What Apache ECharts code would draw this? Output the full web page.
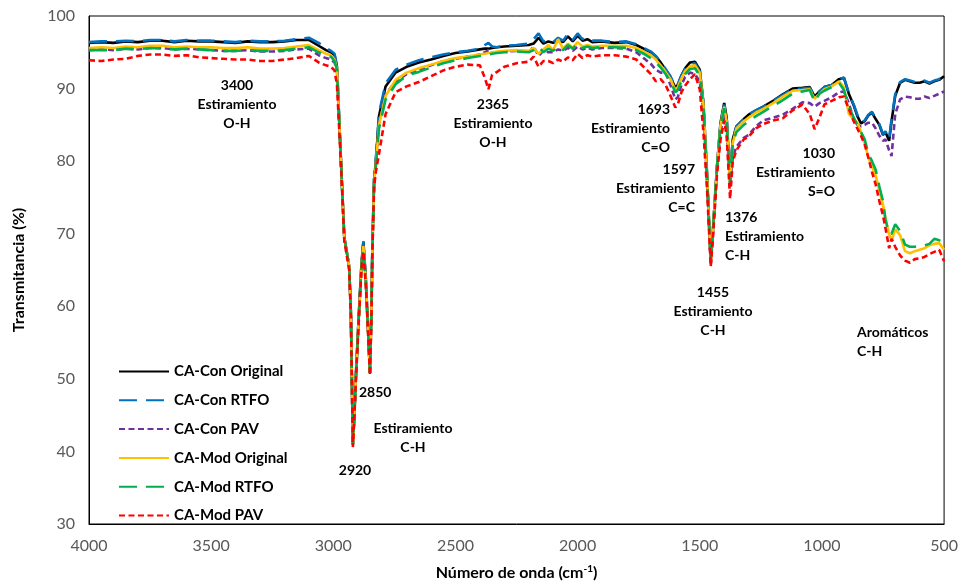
<!DOCTYPE html>
<html>
<head>
<meta charset="utf-8">
<script src="https://cdn.jsdelivr.net/npm/echarts@6/dist/echarts.min.js"></script>
<style>
	html, body { margin: 0; padding: 0; background: #fff; }
	#charts1 { width: 961px; height: 586px; }
</style>
</head>
<body>
<div id="charts1"></div>
<script>
// número de onda (cm-1), eje compartido por las seis curvas
var waveNumbers = [
	4000,3950,3900,3850,3800,3750,3700,3650,3600,3550,
	3500,3450,3400,3350,3300,3250,3200,3150,3100,3060,
	3030,3010,2995,2985,2970,2955,2945,2935,2928,2924,
	2920,2914,2908,2895,2884,2877,2867,2858,2850,2844,
	2840,2833,2826,2813,2786,2745,2700,2650,2600,2550,
	2500,2450,2400,2380,2365,2350,2330,2300,2250,2200,
	2180,2160,2140,2120,2100,2080,2060,2040,2020,2000,
	1980,1960,1940,1900,1850,1800,1760,1730,1700,1680,
	1660,1640,1620,1600,1590,1575,1560,1540,1520,1500,
	1485,1470,1455,1445,1430,1415,1400,1390,1376,1365,
	1350,1320,1300,1270,1240,1200,1160,1120,1080,1050,
	1030,1010,990,960,930,910,890,870,855,840,
	825,810,795,780,765,750,740,725,715,700,
	680,660,640,620,600,580,560,540,520,500
];

var conOriginal = [
	96.3,96.4,96.3,96.5,96.4,96.6,96.6,96.4,96.6,96.5,
	96.5,96.4,96.3,96.5,96.4,96.4,96.5,96.7,96.7,95.9,
	95.3,95.0,94.6,93.0,81,69.5,67.5,65.5,59,50,
	41,45,50,59.3,66.2,68.9,63.8,57,50.8,59.3,
	68.4,77.5,79.9,86.2,90.3,92.2,93.0,93.6,94.0,94.5,
	94.9,95.1,95.4,95.5,95.5,95.6,95.7,95.8,95.9,96.0,
	96.2,97.0,96.2,96.5,96.3,96.6,96.4,97.2,96.5,97.3,
	96.6,96.8,96.4,96.5,96.3,96.4,96.0,95.5,95.0,94.4,
	93.6,92.6,91.6,90.1,90.5,91.8,92.8,93.6,93.7,92.6,
	88,78,66,71,79,85.3,88.0,86,77.5,83,
	84.8,85.8,86.4,87.0,87.5,88.3,89.2,90.0,90.1,90.2,
	88.9,89.6,90.2,90.5,91.3,91.5,89.3,87.7,86.2,85.2,
	85.5,86.3,86.7,85.8,85.0,83.6,84.0,82.8,85.5,89.0,
	90.8,91.2,91.0,90.8,90.8,91.0,90.7,91.0,91.2,91.7
];
var conRtfo = [
	96.4,96.5,96.5,96.6,96.5,96.7,96.7,96.5,96.7,96.6,
	96.6,96.5,96.4,96.6,96.5,96.5,96.6,96.8,97.0,96.3,
	95.6,95.2,94.8,93.2,81,69.5,67.5,65.5,59,50,
	41,45,50,59.3,66.2,68.9,63.8,57,50.8,59.3,
	68.4,77.5,80.2,86.6,90.7,92.6,93.3,93.9,94.3,94.7,
	95.0,95.2,95.5,96.0,96.3,95.8,95.7,95.9,96.0,96.2,
	96.8,97.6,96.5,96.7,96.4,97.0,96.6,97.5,96.7,97.6,
	96.8,97.0,96.6,96.6,96.4,96.5,96.1,95.6,95.1,94.5,
	93.7,92.7,91.7,90.2,90.6,91.8,92.7,93.4,93.5,92.4,
	88,78,66,71,79,85.3,87.8,86,77.3,83,
	84.8,85.8,86.4,87.0,87.5,88.3,89.1,89.9,90.0,90.1,
	88.9,89.6,90.2,90.5,91.3,91.5,89.4,87.8,86.4,85.3,
	85.6,86.4,86.8,85.9,85.1,83.7,84.1,83.0,85.8,89.2,
	90.9,91.3,91.1,90.9,90.9,91.1,90.8,91.1,91.3,91.8
];
var conPav = [
	95.3,95.4,95.3,95.5,95.4,95.6,95.6,95.4,95.5,95.4,
	95.3,95.2,95.2,95.3,95.1,95.1,95.2,95.4,95.5,94.6,
	94.2,94.0,93.6,92.5,81,69.5,67.5,65.5,59,50,
	40.9,45,50,59,66,68.3,63.5,56.8,50.8,59,
	68,77,79.5,85.2,89.2,91.0,92.0,92.6,93.2,93.8,
	94.1,94.4,94.7,95.0,95.3,94.9,95.0,95.1,95.2,95.0,
	95.8,94.5,95.2,95.0,95.0,95.4,95.2,95.6,95.2,95.8,
	95.4,95.6,95.4,95.6,95.6,95.5,95.0,94.2,93.4,92.6,
	92.2,92.2,90.5,88.5,88.8,90.5,91.6,92.2,92.0,91.0,
	87,77,65.8,70.5,78.5,84,86.5,84.5,76.5,80.5,
	82.0,83.2,83.6,84.8,85.6,86.0,86.4,87.2,88.1,88.0,
	87.5,88.0,88.3,88.8,89.5,89.6,88.0,85.8,85.0,84.8,
	85.0,85.3,85.3,84.5,83.5,82.8,83.0,81.5,80.7,86.5,
	88.5,88.9,88.8,88.6,88.6,88.9,88.7,89.0,89.3,89.6
];
var modOriginal = [
	95.6,95.7,95.6,95.8,95.7,95.9,95.9,95.7,95.8,95.7,
	95.7,95.6,95.6,95.7,95.5,95.5,95.6,95.8,96.0,95.3,
	94.8,94.6,94.0,92.8,81,69.5,67.5,65.5,59,50,
	40.9,45,50,59,66,68.3,63.5,56.8,50.8,59,
	68,77,79.5,85,89.0,91.2,92.2,92.8,93.3,93.8,
	94.2,94.4,94.7,94.8,94.9,95.0,95.1,95.2,95.3,95.2,
	95.6,94.8,95.4,96.0,95.3,96.8,95.5,96.2,95.6,96.4,
	95.8,96.0,95.8,95.9,95.9,95.9,95.6,95.1,94.6,94.0,
	93.2,92.3,91.3,89.8,90.2,91.4,92.4,93.1,93.2,92.2,
	87.8,77.8,66,71,79,85,87.5,85.5,77,82.5,
	84.5,85.5,86.0,86.7,87.2,88.0,88.9,89.7,89.8,89.9,
	88.6,89.3,89.9,90.3,91.0,90.2,86.5,85.8,85.3,84.0,
	82.5,80.5,79.3,78.0,76.0,74.0,72.0,70.0,69.0,70.6,
	69.8,67.6,67.3,67.6,67.8,68.0,68.4,68.6,68.7,67.8
];
var modRtfo = [
	95.3,95.3,95.3,95.5,95.4,95.6,95.5,95.4,95.5,95.4,
	95.3,95.2,95.2,95.3,95.2,95.2,95.3,95.5,95.7,95.0,
	94.6,94.4,93.8,92.6,81,69.5,67.5,65.5,59,50,
	40.9,45,50,59,66,68.0,63.5,56.8,50.8,59,
	68,77,79.3,84.5,88.5,90.6,91.8,92.3,92.9,93.5,
	93.9,94.2,94.5,94.6,94.7,94.8,94.9,95.0,95.1,95.0,
	95.3,95.8,95.0,95.5,95.2,95.8,95.3,96.0,95.5,96.2,
	95.6,95.8,95.6,95.7,95.7,95.6,95.3,94.8,94.2,93.6,
	92.9,92.0,91.0,89.5,89.8,91.0,92.0,92.7,92.8,91.8,
	87.5,77.5,66,71,79,84.8,87.3,85.5,77,82.5,
	84.0,85.0,85.5,86.2,86.8,87.6,88.4,89.3,89.6,89.8,
	88.2,89.3,89.7,90.2,90.8,89.8,87.5,86.0,85.0,84.0,
	83.0,81.0,80.0,78.8,76.5,74.5,72.0,70.0,70.0,71.3,
	70.4,68.5,68.2,68.2,68.3,68.4,68.6,69.3,69.1,68.5
];
var modPav = [
	93.9,93.8,94.0,94.1,94.5,94.7,94.7,94.5,94.6,94.3,
	94.2,94.1,94.0,94.0,93.8,93.8,94.0,94.2,94.5,93.6,
	93.2,93.0,92.5,90.5,80.5,69,67,65,58.5,49.5,
	40.6,44.5,49.5,58.5,65.5,67.5,63,56.5,50.5,58.5,
	67.5,76.5,78.5,81,86.5,89.5,90.3,90.9,91.7,92.5,
	93.0,93.3,93.2,91.5,89.9,91.9,92.3,93.0,93.5,93.7,
	94.4,93.0,93.8,93.8,93.5,94.0,93.7,94.3,93.9,94.8,
	94.2,94.6,94.4,94.6,94.6,94.4,94.0,93.0,92.0,91.0,
	91.3,90.5,89.0,87.4,87.8,89.5,90.4,91.3,92.0,89.9,
	84,76,65.5,70,78,83,85.6,83.5,74.8,80,
	81.5,83.0,83.4,84.5,85.1,85.6,85.9,87.0,87.8,86.5,
	84.4,86.0,87.8,88.3,88.8,88.9,87.2,85.5,84.5,83.5,
	82.3,80.5,78.5,76.8,74.5,72.5,70.8,68.0,69.3,68.2,
	67.0,66.3,66.0,66.5,66.6,66.8,67.2,67.5,67.8,66.2
];

var seriesNames = ['CA-Con Original', 'CA-Con RTFO', 'CA-Con PAV', 'CA-Mod Original', 'CA-Mod RTFO', 'CA-Mod PAV'];
var seriesValues = [conOriginal, conRtfo, conPav, modOriginal, modRtfo, modPav];
var seriesColors = ['#000000', '#0070C0', '#7030A0', '#FFC000', '#00B050', '#FF0000'];
var seriesDash = ['solid', [18, 9], [6, 3.5], 'solid', [18, 9], [6, 3.5]];

var xTicks = [4000, 3500, 3000, 2500, 2000, 1500, 1000, 500];
var yTicks = [30, 40, 50, 60, 70, 80, 90, 100];

// anotaciones de bandas: [texto, x, y, alineacion]
var bandLabels = [
	['3400\nEstiramiento\nO-H', 237, 104, 'center'],
	['2365\nEstiramiento\nO-H', 493, 123, 'center'],
	['1693\nEstiramiento\nC=O', 670, 128, 'right'],
	['1597\nEstiramiento\nC=C', 695, 188, 'right'],
	['1376\nEstiramiento\nC-H', 725, 236, 'left'],
	['1455\nEstiramiento\nC-H', 713, 311, 'center'],
	['1030\nEstiramiento\nS=O', 835, 172, 'right'],
	['Aromáticos\nC-H', 857, 342, 'left'],
	['2850', 359, 392, 'left'],
	['Estiramiento\nC-H', 413, 438, 'center'],
	['2920', 355, 470, 'center']
];

var font = 'Lato, "Open Sans", sans-serif';

function buildSeries() {
	var list = [];
	for (var i = 0; i < seriesNames.length; i++) {
		var data = waveNumbers.map(function (w, j) { return [w, seriesValues[i][j]]; });
		list.push({
			name: seriesNames[i],
			type: 'line',
			data: data,
			symbol: 'none',
			smooth: false,
			animation: false,
			lineStyle: { color: seriesColors[i], width: 2.6, type: seriesDash[i] },
			itemStyle: { color: seriesColors[i] }
		});
	}
	return list;
}

function buildLabels() {
	return bandLabels.map(function (item) {
		return {
			type: 'text',
			x: item[1],
			y: item[2],
			style: {
				text: item[0],
				font: 'bold 14px ' + font,
				fill: '#000',
				align: item[3],
				verticalAlign: 'middle',
				lineHeight: 19
			},
			z: 100
		};
	});
}

var charts1 = echarts.init(document.getElementById('charts1'), null, { renderer: 'canvas' });
charts1.setOption({
	backgroundColor: '#fff',
	animation: false,
	grid: {
		left: 89, right: 14, top: 16, bottom: 59,
		show: true, borderColor: '#000', borderWidth: 1
	},
	legend: {
		orient: 'vertical',
		left: 113, top: 359,
		itemWidth: 50, itemHeight: 14, itemGap: 13.8,
		data: seriesNames,
		itemStyle: { opacity: 0 },
		textStyle: { fontFamily: font, fontSize: 15, fontWeight: 'bold', color: '#000' }
	},
	xAxis: {
		type: 'value',
		inverse: true,
		min: xTicks[xTicks.length - 1],
		max: xTicks[0],
		interval: 500,
		name: 'Número de onda (cm{sup|-1})',
		nameLocation: 'middle',
		nameGap: 40,
		nameTextStyle: {
			fontFamily: font, fontSize: 16, fontWeight: 'bold', color: '#000',
			rich: { sup: { fontFamily: font, fontSize: 10, fontWeight: 'bold', color: '#000', verticalAlign: 'top', padding: [0, 0, 8, 0] } }
		},
		axisLine: { lineStyle: { color: '#000', width: 1 } },
		axisTick: { show: false },
		splitLine: { show: false },
		axisLabel: {
			fontFamily: font, fontSize: 16, color: '#595959', margin: 14,
			formatter: function (v) { return String(v); }
		}
	},
	yAxis: {
		type: 'value',
		min: yTicks[0],
		max: yTicks[yTicks.length - 1],
		interval: 10,
		name: 'Transmitancia (%)',
		nameLocation: 'middle',
		nameGap: 62,
		nameTextStyle: { fontFamily: font, fontSize: 16, fontWeight: 'bold', color: '#000' },
		axisLine: { show: true, lineStyle: { color: '#000', width: 1 } },
		axisTick: { show: false },
		splitLine: { show: false },
		axisLabel: { fontFamily: font, fontSize: 16, color: '#595959', margin: 14 }
	},
	graphic: buildLabels(),
	series: buildSeries()
});

window.onresize = function () {
	charts1.resize();
};
</script>
</body>
</html>
